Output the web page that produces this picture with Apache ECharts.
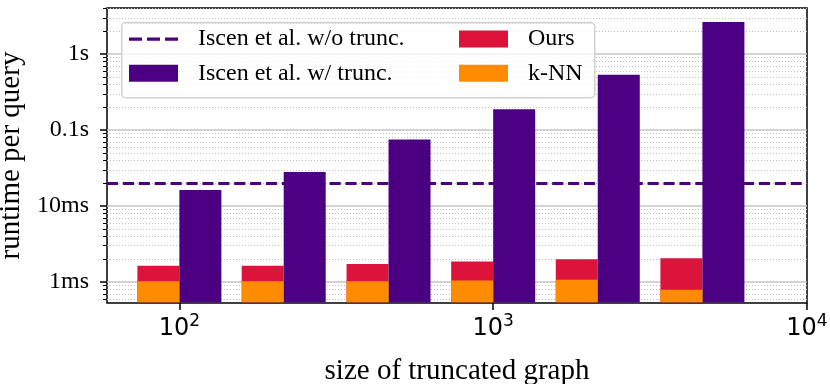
<!DOCTYPE html>
<html>
<head>
<meta charset="utf-8">
<script src="https://cdn.jsdelivr.net/npm/echarts@6/dist/echarts.min.js"></script>
<style>
html,body{margin:0;padding:0;background:#fff;}
#chart{width:830px;height:384px;}
</style>
</head>
<body>
<div id="chart"></div>
<script>
// ---- data ----
const sizes = [100, 215, 464, 1000, 2154, 4642];
const iscenTrunc = [0.0162, 0.0281, 0.0752, 0.188, 0.533, 2.64];
const ours = [0.00163, 0.00164, 0.00173, 0.00186, 0.00199, 0.00205];
const knn = [0.00102, 0.00102, 0.00102, 0.00105, 0.00107, 0.00079];
const iscenNoTrunc = 0.0201;
const seriesNames = ['Iscen et al. w/o trunc.', 'Iscen et al. w/ trunc.', 'Ours', 'k-NN'];
const xTicks = [100, 1000, 10000];
const yTicks = [0.001, 0.01, 0.1, 1];
const yTickLabels = ['1ms', '10ms', '0.1s', '1s'];

// ---- axis ranges ----
const xMin = 58.8, xMax = 10000;
const yMin = 0.000529, yMax = 4.04;

const yMinor = [];
for (let d = -4; d <= 0; d++) {
  for (let k = 2; k <= 9; k++) {
    const v = k * Math.pow(10, d);
    if (v > yMin && v < yMax) yMinor.push(v);
  }
}

const C_PURPLE = '#4B0082', C_RED = '#DC143C', C_ORANGE = '#FF8C00';
const SERIF = '"Liberation Serif", "Times New Roman", serif';
const BAR_W = 42;
const DASH_ICON = 'path://M0,0L0.01,0Z M0,7h13v3.2h-13z M18,7h13v3.2h-13z M36,7h13v3.2h-13z M0,17L0.01,17Z';

function barRender(side) {
  return function (params, api) {
    const x = api.value(0), y = api.value(1);
    const top = api.coord([x, y]);
    const cs = params.coordSys;
    const bottom = cs.y + cs.height - 0.75;
    const x0 = side < 0 ? top[0] - BAR_W : top[0];
    return {
      type: 'rect',
      shape: { x: x0, y: top[1], width: BAR_W, height: bottom - top[1] },
      style: api.style()
    };
  };
}
function pairs(xs, ys) { return xs.map((x, i) => [x, ys[i]]); }

const legendCommon = {
  orient: 'vertical', top: 27, padding: 0,
  itemWidth: 49, itemHeight: 17, itemGap: 10.3,
  textStyle: { fontFamily: SERIF, fontSize: 24, color: '#000', lineHeight: 24, padding: [0, 0, 0, 15] },
  selectedMode: false, z: 10
};

const chart = echarts.init(document.getElementById('chart'), null, { renderer: 'canvas' });
chart.setOption({
  animation: false,
  backgroundColor: '#fff',
  grid: { left: 107, right: 23, top: 8, bottom: 81, show: true, borderColor: '#000', borderWidth: 1.5,
          backgroundColor: 'transparent', containLabel: false, outerBoundsMode: 'none' },
  xAxis: {
    type: 'log', logBase: 10, min: xMin, max: xMax,
    name: 'size of truncated graph', nameLocation: 'middle', nameGap: 54,
    nameTextStyle: { fontFamily: SERIF, fontSize: 29, color: '#000' },
    axisLine: { show: false },
    axisTick: { show: true, inside: false, length: 7, lineStyle: { color: '#000', width: 1.5 }, customValues: xTicks },
    axisLabel: {
      customValues: xTicks, margin: 10, color: '#000',
      formatter: v => '{b|10}{s|' + Math.round(Math.log10(v)) + '}',
      rich: {
        b: { fontFamily: '"DejaVu Sans"', fontSize: 24, lineHeight: 32, color: '#000' },
        s: { fontFamily: '"DejaVu Sans"', fontSize: 17, lineHeight: 17, verticalAlign: 'top', color: '#000' }
      }
    },
    splitLine: { show: false },
    minorTick: { show: false }
  },
  yAxis: [
    {
      type: 'log', logBase: 10, min: yMin, max: yMax, position: 'left',
      name: 'runtime per query', nameLocation: 'middle', nameGap: 76,
      nameTextStyle: { fontFamily: SERIF, fontSize: 29, color: '#000' },
      axisLine: { show: false },
      axisTick: { show: true, inside: false, length: 7, lineStyle: { color: '#000', width: 1.5 }, customValues: yTicks },
      axisLabel: {
        customValues: yTicks, margin: 18, color: '#000', fontFamily: SERIF, fontSize: 24,
        formatter: v => {
          let best = 0, bd = 1e9;
          yTicks.forEach((t, i) => { const d = Math.abs(Math.log10(t) - Math.log10(v)); if (d < bd) { bd = d; best = i; } });
          return yTickLabels[best];
        }
      },
      splitLine: { show: true, lineStyle: { color: '#c4c4c4', width: 1.5 } },
      z: 0
    },
    {
      type: 'log', logBase: 10, min: yMin, max: yMax, position: 'left',
      axisLine: { show: false },
      axisTick: { show: true, inside: false, length: 4, lineStyle: { color: '#000', width: 1 }, customValues: yMinor },
      axisLabel: { show: false },
      splitLine: { show: true, lineStyle: { color: '#bdbdbd', width: 1, type: [1, 2] } },
      z: 0
    }
  ],
  legend: [
    Object.assign({}, legendCommon, {
      left: 129,
      data: [{ name: seriesNames[0], icon: DASH_ICON }, { name: seriesNames[1], icon: 'rect' }]
    }),
    Object.assign({}, legendCommon, {
      left: 459,
      data: [{ name: seriesNames[2], icon: 'rect' }, { name: seriesNames[3], icon: 'rect' }]
    })
  ],
  graphic: [{
    type: 'rect', left: 121, top: 22, z: 2,
    shape: { width: 473, height: 75, r: 4 },
    style: { fill: 'rgba(255,255,255,0.8)', stroke: '#d0d0d0', lineWidth: 1.5 },
    silent: true
  }],
  series: [
    {
      name: seriesNames[0], type: 'line', data: [], symbol: 'none',
      itemStyle: { color: C_PURPLE },
      lineStyle: { color: C_PURPLE, width: 3, type: [11.1, 4.8] },
      markLine: {
        silent: true, symbol: ['none', 'none'], label: { show: false },
        lineStyle: { color: C_PURPLE, width: 3, type: [11.1, 4.8] },
        data: [{ yAxis: iscenNoTrunc }]
      },
      z: 10
    },
    {
      name: seriesNames[2], type: 'custom', renderItem: barRender(-1),
      encode: { x: 0, y: 1 }, data: pairs(sizes, ours),
      itemStyle: { color: C_RED }, z: 3
    },
    {
      name: seriesNames[3], type: 'custom', renderItem: barRender(-1),
      encode: { x: 0, y: 1 }, data: pairs(sizes, knn),
      itemStyle: { color: C_ORANGE }, z: 4
    },
    {
      name: seriesNames[1], type: 'custom', renderItem: barRender(1),
      encode: { x: 0, y: 1 }, data: pairs(sizes, iscenTrunc),
      itemStyle: { color: C_PURPLE }, z: 3
    }
  ]
});
</script>
</body>
</html>
